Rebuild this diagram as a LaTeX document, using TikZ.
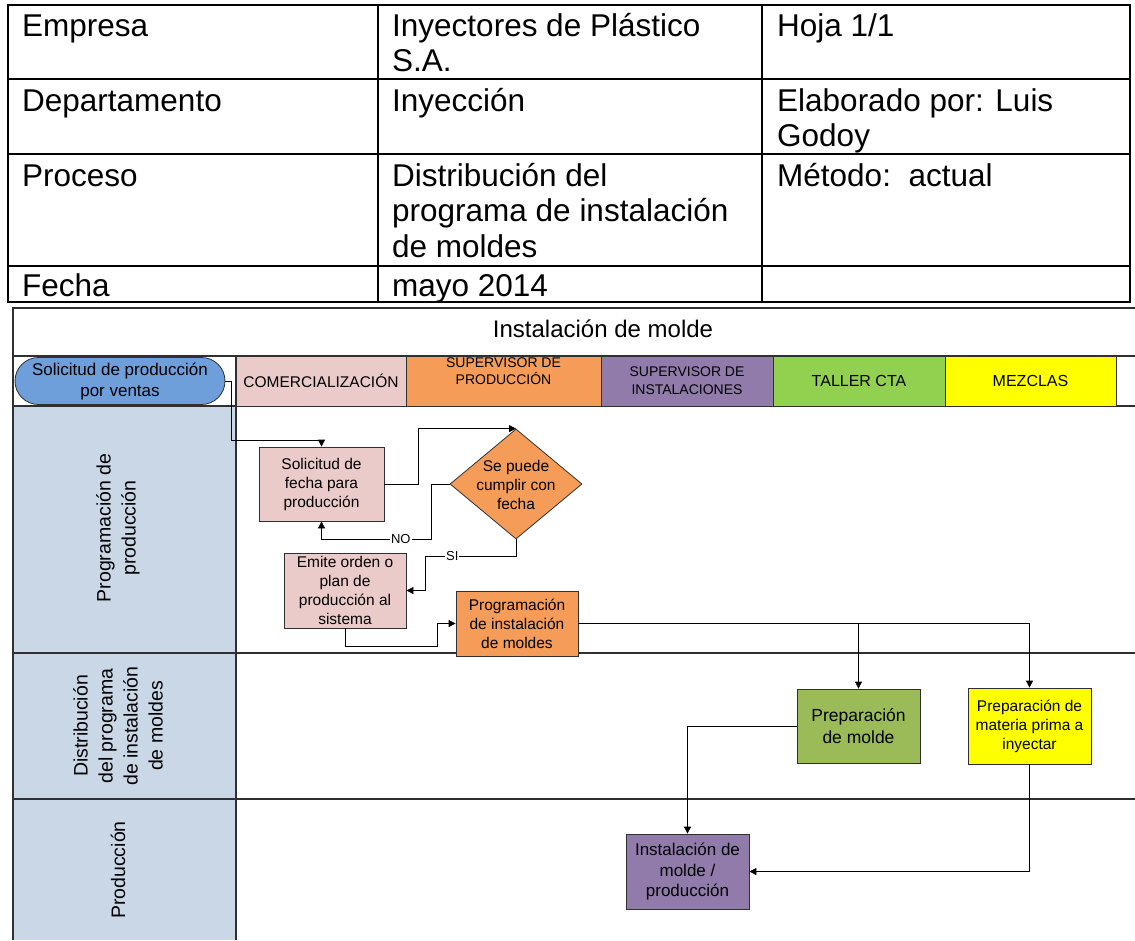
\documentclass[tikz,border=0pt]{standalone}
\usepackage{fontspec}
\setmainfont{Liberation Sans}
\usetikzlibrary{arrows.meta,shapes.geometric,shapes.misc}
\definecolor{cblue}{HTML}{6E9FDA}
\definecolor{cpink}{HTML}{EBCBCA}
\definecolor{corange}{HTML}{F59D58}
\definecolor{cpurple}{HTML}{917BAB}
\definecolor{cgreen}{HTML}{92D050}
\definecolor{colive}{HTML}{9BBB59}
\definecolor{cyellow}{HTML}{FFFF00}
\definecolor{clane}{HTML}{C9D7E6}
\definecolor{cline}{HTML}{303030}
\begin{document}
\begin{tikzpicture}[x=1pt,y=-1pt,
  tabtxt/.style={anchor=north west,inner sep=0pt,align=left,font=\fontsize{31.5}{35.5}\selectfont},
  hdr/.style={draw=cline,line width=0.8pt,inner sep=0pt,align=center},
  box/.style={draw=cline,line width=0.8pt,inner sep=0pt,align=center,font=\fontsize{15.5}{19}\selectfont},
  lanelbl/.style={rotate=90,align=center,inner sep=0pt,font=\fontsize{19.5}{25}\selectfont},
  arr/.style={draw=black,line width=0.8pt,-{Triangle[width=7pt,length=7pt]}},
  lbl/.style={fill=white,inner sep=1pt,font=\fontsize{13}{15}\selectfont}]
\useasboundingbox (0,0) rectangle (1135,940);
% ---------- top table ----------
\draw[line width=2pt] (8,5) rectangle (1130,302);
\draw[line width=2pt] (8,79) -- (1130,79) (8,154) -- (1130,154) (8,266) -- (1130,266)
  (378,5) -- (378,302) (762,5) -- (762,302);
\node[tabtxt] (t11) at (22,11) {\strut Empresa};
\node[tabtxt] (t12) at (392,11) {\strut Inyectores de Plástico\\\strut S.A.};
\node[tabtxt] (t13) at (777,11) {\strut Hoja 1/1};
\node[tabtxt] (t21) at (22,86) {\strut Departamento};
\node[tabtxt] (t22) at (392,86) {\strut Inyección};
\node[tabtxt] (t23) at (777,86) {\strut Elaborado por: Luis\\\strut Godoy};
\node[tabtxt] (t31) at (22,161) {\strut Proceso};
\node[tabtxt] (t32) at (392,161) {\strut Distribución del\\\strut programa de instalación\\\strut de moldes};
\node[tabtxt] (t33) at (777,161) {\strut Método:\ \ actual};
\node[tabtxt] (t41) at (22,271) {\strut Fecha};
\node[tabtxt] (t42) at (392,271) {\strut mayo 2014};
% ---------- swimlane frame ----------
\fill[clane] (13,406) rectangle (236,940);
\draw[cline,line width=1.2pt] (1135,308) -- (13,308) -- (13,940);
\draw[cline,line width=1.2pt] (13,356) -- (1135,356) (13,406) -- (1135,406);
\draw[cline,line width=1.2pt] (13,653) -- (1135,653) (13,799) -- (1135,799);
\draw[cline,line width=1.2pt] (236,356) -- (236,940);
\node[font=\fontsize{24}{28}\selectfont] (title) at (603,329) {Instalación de molde};
% header cells
\node[hdr,fill=cpink,minimum width=170pt,minimum height=50pt,font=\fontsize{15.5}{18}\selectfont] (hcom) at (321,381) {COMERCIALIZACIÓN};
\node[hdr,fill=corange,minimum width=195pt,minimum height=50pt] (hsp) at (503.5,381) {};
\node[font=\fontsize{14}{17}\selectfont,align=center,inner sep=0pt,anchor=north] (hspt) at (503.5,358) {SUPERVISOR DE\\PRODUCCIÓN};
\node[hdr,fill=cpurple,minimum width=172pt,minimum height=50pt,font=\fontsize{14}{18}\selectfont] (hsi) at (687,381) {SUPERVISOR DE\\INSTALACIONES};
\node[hdr,fill=cgreen,minimum width=172pt,minimum height=50pt,font=\fontsize{16}{19}\selectfont] (hta) at (859,381) {TALLER CTA};
\node[hdr,fill=cyellow,minimum width=171pt,minimum height=50pt,font=\fontsize{16}{19}\selectfont] (hme) at (1030.5,381) {MEZCLAS};
\node[rounded rectangle,draw=cline,line width=0.8pt,fill=cblue,minimum width=210pt,minimum height=47pt,inner sep=0pt,align=center,font=\fontsize{17}{21}\selectfont] (solv) at (120,381) {Solicitud de producción\\por ventas};
% lane labels
\node[lanelbl] (l1) at (118,528) {Programación de\\producción};
\node[lanelbl] (l2) at (118,726) {Distribución\\del programa\\de instalación\\de moldes};
\node[lanelbl] (l3) at (118,870) {Producción};
% ---------- process nodes ----------
\node[box,fill=cpink,minimum width=125pt,minimum height=74pt] (sfecha) at (321.5,484) {Solicitud de\\fecha para\\producción};
\node[diamond,draw=cline,line width=0.8pt,fill=corange,minimum width=132pt,minimum height=110pt,inner sep=0pt] (dia) at (516,484) {};
\node[align=center,inner sep=0pt,font=\fontsize{15.5}{19}\selectfont] (diat) at (516,485) {Se puede\\cumplir con\\fecha};
\node[box,fill=cpink,minimum width=122pt,minimum height=75pt] (emite) at (345,590.5) {Emite orden o\\plan de\\producción al\\sistema};
\node[box,fill=corange,minimum width=122pt,minimum height=65pt] (prog) at (517,623.5) {Programación\\de instalación\\de moldes};
\node[box,fill=colive,minimum width=123pt,minimum height=74pt,font=\fontsize{17.5}{22}\selectfont] (prepm) at (858.5,726) {Preparación\\de molde};
\node[box,fill=cyellow,minimum width=123pt,minimum height=76pt] (prepmat) at (1029.5,726) {Preparación de\\materia prima a\\inyectar};
\node[box,fill=cpurple,minimum width=123pt,minimum height=75pt,font=\fontsize{17}{20.5}\selectfont] (inst) at (687.5,871.5) {Instalación de\\molde /\\producción};
% ---------- connectors ----------
\draw[arr] (solv.east) -- ++(6,0) -- ++(0,59) -| (sfecha.north);
\draw[arr] (sfecha.east) -- ++(34,0) |- (dia.north);
\draw[arr] (dia.west) -- ++(-18,0) -- ++(0,55) -| node[pos=0.14,lbl]{NO} (sfecha.south);
\draw[arr] (dia.south) -- ++(0,17) -- node[pos=0.7,lbl]{SI} ++(-91,0) |- (emite.east);
\draw[arr] (emite.south) -- ++(0,18) -- ++(92,0) |- (prog.west);
\draw[arr] (prog.east) -| (prepm.north);
\draw[arr] (prog.east) -| (prepmat.north);
\draw[arr] (prepm.west) -| (inst.north);
\draw[arr] (prepmat.south) |- (inst.east);
\end{tikzpicture}
\end{document}
